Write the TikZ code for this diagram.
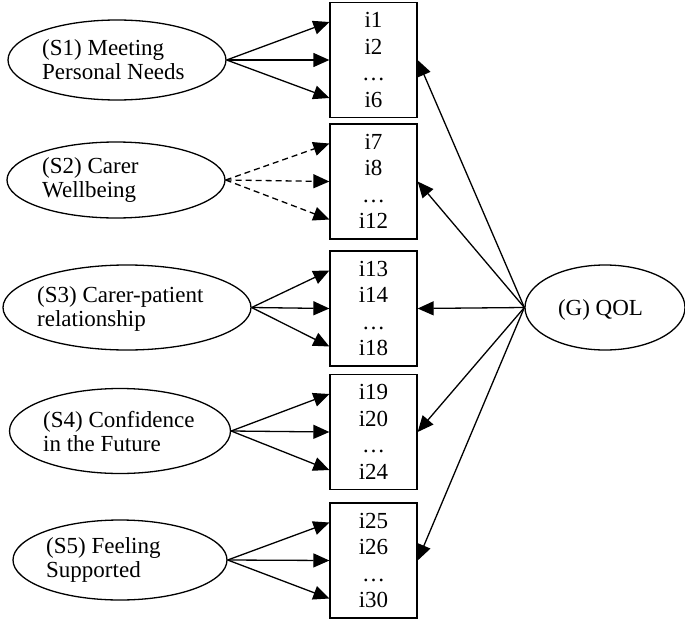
\documentclass[tikz,border=0pt]{standalone}
\usepackage{fontspec}
\setmainfont{Liberation Serif}
\usetikzlibrary{arrows.meta,shapes.geometric}
\begin{document}
\begin{tikzpicture}[x=1pt,y=-1pt,
  lat/.style={draw,ellipse,line width=1.3pt,inner sep=0pt},
  lbl/.style={anchor=west,align=left,inner sep=0pt,font=\fontsize{23}{24}\selectfont},
  itembox/.style={draw,line width=1.3pt,minimum width=87pt,minimum height=115pt,inner sep=0pt,align=center,font=\fontsize{23}{26.5}\selectfont},
  ld/.style={line width=1.3pt,-{Triangle[length=16pt,width=14pt]}},
  ldd/.style={ld,dash pattern=on 6pt off 4pt}
]
\useasboundingbox (0,0) rectangle (685,621);

% item boxes
\node[itembox] (b1) at (373.5,60)    {i1\\i2\\…\\i6};
\node[itembox] (b2) at (373.5,181.5) {i7\\i8\\…\\i12};
\node[itembox] (b3) at (373.5,308.5) {i13\\i14\\…\\i18};
\node[itembox] (b4) at (373.5,432)   {i19\\i20\\…\\i24};
\node[itembox] (b5) at (373.5,560.5) {i25\\i26\\…\\i30};

% specific factors
\node[lat,minimum width=218pt,minimum height=80pt] (e1) at (117,60) {};
\node[lbl] (t1) at (42,60) {(S1) Meeting\\Personal Needs};
\node[lat,minimum width=218pt,minimum height=76pt] (e2) at (116,180) {};
\node[lbl] (t2) at (42,180) {(S2) Carer\\Wellbeing};
\node[lat,minimum width=248pt,minimum height=85pt] (e3) at (127,307.5) {};
\node[lbl] (t3) at (37,309) {(S3) Carer-patient\\relationship};
\node[lat,minimum width=221pt,minimum height=85pt] (e4) at (120,431) {};
\node[lbl] (t4) at (43,432) {(S4) Confidence\\in the Future};
\node[lat,minimum width=214pt,minimum height=80pt] (e5) at (120,560) {};
\node[lbl] (t5) at (46,560) {(S5) Feeling\\Supported};

% general factor
\node[lat,minimum width=160pt,minimum height=85pt] (g) at (605,307.5) {};
\node[inner sep=0pt,font=\fontsize{23}{24}\selectfont] (tg) at (600.5,309.5) {(G) QOL};

% loadings of specific factors
\foreach \e/\b/\s in {e1/b1/ld,e3/b3/ld,e4/b4/ld,e5/b5/ld,e2/b2/ldd}{
  \draw[\s] (\e.east) -- ([yshift=38pt]\b.west);
  \draw[\s] (\e.east) -- (\b.west);
  \draw[\s] (\e.east) -- ([yshift=-38pt]\b.west);
}

% loadings of general factor
\foreach \b in {b1,b2,b3,b4,b5}{
  \draw[ld] (g.west) -- (\b.east);
}
\end{tikzpicture}
\end{document}
